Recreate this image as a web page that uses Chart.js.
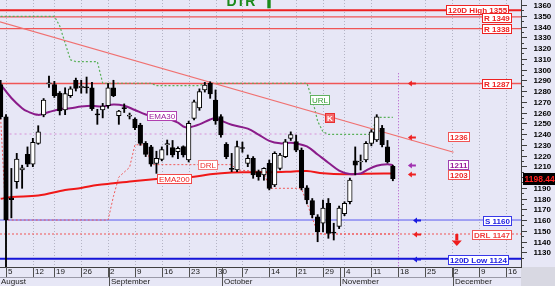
<!DOCTYPE html>
<html lang="en">
<head>
  <meta charset="UTF-8">
  <title>DTR daily</title>
  <script src="https://cdn.jsdelivr.net/npm/chart.js"></script>
  <style>
    html, body { margin: 0; padding: 0; background: #e7e7f6; }
    canvas { display: block; }
  </style>
</head>
<body>
  <canvas id="grafica" width="555" height="286"></canvas>

  <script>
    // x = trading-day index, 0 = Aug 5 (Aug 15 and Oct 28 are market holidays)
    const firstIdx = -1;
    const opens  = [1286, 1256, 1180.5, 1195.6, 1206.5, 1221, 1212, 1231.3, 1257.7, 1286.5,
                    1286, 1278, 1262.5, 1275.6, 1290, 1283, 1284, 1283, 1258.6, 1262.5,
                    1266.3, 1283, 1257, 1264.5, 1256.5, 1254, 1248.4, 1231.3, 1228, 1212.7,
                    1216.3, 1230, 1227.3, 1223.5, 1228.2, 1215.8, 1254.6, 1264.2, 1281, 1287.2,
                    1271.6, 1256.1, 1230.4, 1208, 1206.5, 1227.3, 1212.7, 1217.4, 1205, 1202,
                    1212.7, 1192.6, 1208, 1219, 1236, 1233, 1225, 1190, 1178, 1163,
                    1157, 1175.5, 1148.5, 1154, 1166, 1177, 1215, 1214, 1215.8, 1231.3,
                    1234.4, 1245.3, 1228, 1210];
    const highs  = [1290, 1258, 1208, 1222, 1211, 1228, 1236, 1247.7, 1273, 1294,
                    1289, 1279.5, 1283, 1284, 1292, 1290, 1293, 1288, 1263, 1268.5,
                    1287, 1290, 1262, 1268, 1259.5, 1255, 1250, 1233, 1229.5, 1224,
                    1228, 1234.4, 1234, 1228, 1229, 1252, 1271.6, 1282, 1288, 1288.6,
                    1281, 1258, 1232, 1222, 1233.5, 1232.5, 1220.5, 1219, 1206.5, 1208.6,
                    1215.8, 1223.5, 1222, 1235, 1242, 1239, 1227, 1192, 1180, 1165,
                    1178.6, 1180, 1157, 1173, 1177, 1199, 1228, 1220.5, 1233, 1244,
                    1258, 1248, 1234, 1211];
    const lows   = [1254, 1100, 1162, 1189.5, 1189.5, 1209.6, 1209.6, 1230.4, 1256, 1283.4,
                    1274, 1257.7, 1258, 1274, 1280, 1278, 1278, 1262, 1249, 1255,
                    1264, 1274.7, 1249, 1260, 1254, 1244, 1229.5, 1219, 1210, 1203.4,
                    1215, 1220.5, 1218.6, 1217, 1218.6, 1214, 1253, 1262, 1279, 1273.2,
                    1249, 1237, 1217, 1205, 1205, 1223, 1209.6, 1198.8, 1197, 1197,
                    1188, 1191, 1206.5, 1218, 1234, 1223.5, 1188, 1175, 1162, 1139.8,
                    1149, 1143, 1141.4, 1152, 1164, 1175, 1202, 1206.5, 1214, 1229,
                    1233, 1228, 1213, 1196.5];
    const closes = [1256, 1160, 1179, 1216.7, 1208.5, 1212, 1232.3, 1242, 1271.6, 1287.5,
                    1275.6, 1261.5, 1277.5, 1282, 1282.5, 1284.5, 1283, 1263.5, 1257.8, 1266,
                    1283, 1275.6, 1261.4, 1263.5, 1257.5, 1245.9, 1231.3, 1221, 1212, 1217.4,
                    1225.6, 1231, 1220.5, 1226.7, 1220.5, 1250, 1270, 1279.4, 1285.6, 1277.2,
                    1252.1, 1239.1, 1218.9, 1207, 1228.2, 1226.5, 1217.4, 1201.9, 1200.3, 1208,
                    1189.5, 1222, 1220.5, 1232.8, 1239.5, 1225, 1190, 1178.6, 1164.7, 1149,
                    1171, 1147.6, 1147.8, 1171, 1175.5, 1197.2, 1211, 1214.6, 1231.3, 1242,
                    1256, 1230, 1214, 1198.44];

    const ema30Idx = [-1, 1, 3, 4, 6, 8, 10, 12, 14, 16, 18, 20, 22, 24, 26, 28, 30, 32, 33, 34,
                      36, 38, 39, 40, 42, 45, 47, 49, 51, 53, 54, 56, 58, 60, 62, 64, 66, 67, 69, 71, 72];
    const ema30    = [1286, 1273.5, 1264, 1261, 1257.8, 1260.5, 1263, 1264, 1265.5, 1266.2, 1265.6,
                      1267.5, 1266.3, 1262.3, 1258.2, 1255.8, 1254.3, 1250.5, 1247, 1246.2, 1249,
                      1253.5, 1254.6, 1252.5, 1248.6, 1245, 1239.5, 1233.6, 1231.3, 1231.9, 1231.3,
                      1228.5, 1221, 1213.3, 1206, 1202.7, 1203.2, 1206, 1210.5, 1211.8, 1211];

    const ema200Idx = [-1, 1, 6, 11, 14, 17, 20, 24, 28, 31, 35, 38, 42, 45, 49, 53, 56, 59, 63, 67, 72];
    const ema200    = [1179.7, 1181.4, 1182.8, 1187.9, 1189.8, 1192.6, 1194.1, 1196.3, 1198.1, 1199.1,
                       1200.3, 1202.5, 1204.2, 1204.4, 1204.4, 1205, 1205.6, 1203.5, 1202.5, 1203.1, 1203.3];

    // trailing reversal levels
    const drlIdx = [-1, 0, 19, 20, 21, 23, 24, 26, 27, 42, 43, 48, 49, 54, 55, 56, 57, 58, 59, 72];
    const drl    = [1255, 1160, 1160, 1182, 1200, 1209, 1230, 1230, 1211.5, 1211.5, 1206.5, 1205,
                    1189.5, 1189.5, 1189, 1176, 1162, 1148, 1147, 1147];
    const urlIdx = [-1, 9, 10, 11, 12, 13, 17, 18, 27, 28, 36, 37, 56, 57, 58, 59, 60, 68, 69, 72];
    const url    = [1349.5, 1349.5, 1340.5, 1324.7, 1309, 1307.3, 1307.3, 1287.2, 1287.2, 1285, 1285,
                    1287.2, 1287.2, 1272.6, 1252, 1242, 1239.7, 1239.7, 1255.5, 1255.5];
    const oldLevel = 1240;
    const oldLevelIdx = [-1.2, 60];

    const trendIdx = [-1.2, 83.3];
    const trendVal = [1344.4, 1223];

    // horizontal levels
    const levelVal = [1355, 1349, 1338, 1287, 1160, 1147, 1124];
    const levelTxt = ['120D High 1355', 'R 1349', 'R 1338', 'R 1287', 'S 1160', 'DRL 1147', '120D Low 1124'];

    // right-side markers
    const markVal = [1287, 1236, 1211, 1203, 1160, 1147, 1124];
    const valueTagVal = [1236, 1211, 1203];
    const lastPrice = 1198.44;

    // axes
    const yTicks = [1130, 1140, 1150, 1160, 1170, 1180, 1190, 1200, 1210, 1220, 1230, 1240,
                    1250, 1260, 1270, 1280, 1290, 1300, 1310, 1320, 1330, 1340, 1350, 1360];
    const dayTickIdx = [0, 5, 9, 14, 19, 24, 29, 34, 39, 44, 49, 54, 59, 63, 68, 73, 78, 83, 88, 93];
    const dayTickLbl = ['5', '12', '19', '26', '2', '9', '16', '23', '30', '7', '14', '21', '29',
                        '4', '11', '18', '25', '2', '9', '16'];
    const monthIdx = [-1.5, 19, 40, 62, 83];
    const monthLbl = ['August', 'September', 'October', 'November', 'December'];
    const todayIdx = 73;

    const X_MIN = -1.117, X_MAX = 95.85;
    const Y_MIN = 1116.3, Y_MAX = 1364.65;

    const BG = '#e7e7f6';
    const RED = '#ee2222';
    const PINKRED = '#f05555';
    const BLUE = '#3838e8';
    const PURPLE = '#8a1c8a';
    const FONT_B = 'bold 8px "Liberation Sans", Arial, sans-serif';
    const FONT = '8px "Liberation Sans", Arial, sans-serif';

    const candleX = opens.map((_, k) => firstIdx + k);
    const pts = (xs, ys) => xs.map((v, k) => ({ x: v, y: ys[k] }));

    function line(data, color, width, dash, order, tension) {
      return {
        type: 'line', data, borderColor: color, borderWidth: width, borderDash: dash || [],
        pointRadius: 0, fill: false, tension: tension || 0, order
      };
    }

    const levelStyle = {
      1355: [RED, 2, []], 1349: [PINKRED, 1.4, []], 1338: [PINKRED, 1.4, []], 1287: [PINKRED, 1.4, []],
      1160: ['#5a5af0', 1, []], 1147: [PINKRED, 1, [2, 2]], 1124: ['#1515d8', 2, []]
    };

    const datasets = [
      {
        type: 'bar',
        data: candleX.map((i, k) => ({ x: i, y: [opens[k], closes[k]] })),
        backgroundColor: candleX.map((_, k) => closes[k] >= opens[k] ? '#ffffff' : '#000000'),
        borderColor: '#000', borderWidth: 1, borderSkipped: false,
        barThickness: 4.6, grouped: false, minBarLength: 1, order: 1
      },
      {
        type: 'bar',
        data: candleX.map((i, k) => ({ x: i, y: [lows[k], highs[k]] })),
        backgroundColor: '#000', borderWidth: 0, barThickness: 1.2, grouped: false, order: 2
      },
      line(pts(ema30Idx, ema30), PURPLE, 2, [], 3, 0.35),
      line(pts(ema200Idx, ema200), '#f01818', 2, [], 4, 0.35),
      line(pts(trendIdx, trendVal), '#f07070', 1.2, [], 5),
      line(pts(drlIdx, drl), '#f05a5a', 1, [2, 2], 6),
      line(pts(urlIdx, url), '#58b058', 1.2, [2, 2], 6),
      line(pts(oldLevelIdx, [oldLevel, oldLevel]), '#d890d8', 1, [2, 3], 7)
    ];
    levelVal.forEach(v => {
      const s = levelStyle[v];
      datasets.push(line(pts([X_MIN, X_MAX], [v, v]), s[0], s[1], s[2], 8));
    });

    function tag(c, text, left, cy, o) {
      c.font = o.font || FONT_B;
      const w = Math.round(c.measureText(text).width + 4);
      const h = 10;
      if (o.right) left = o.right - w;
      left = Math.round(left);
      const top = Math.round(cy - h / 2);
      c.fillStyle = o.fill || '#ffffff';
      c.fillRect(left, top, w, h);
      c.strokeStyle = o.border;
      c.lineWidth = 1;
      c.strokeRect(left + 0.5, top + 0.5, w - 1, h - 1);
      c.fillStyle = o.color;
      c.textBaseline = 'middle';
      c.textAlign = 'left';
      c.fillText(text, left + 2, top + h / 2 + 0.5);
    }

    function arrowLeft(c, x0, y0, color) {
      c.fillStyle = color;
      c.strokeStyle = color;
      c.lineWidth = 2;
      c.beginPath(); c.moveTo(x0 + 3, y0); c.lineTo(x0 + 8, y0); c.stroke();
      c.beginPath(); c.moveTo(x0, y0); c.lineTo(x0 + 4, y0 - 3); c.lineTo(x0 + 4, y0 + 3); c.closePath(); c.fill();
    }

    const markColor = { 1287: RED, 1236: RED, 1211: '#a030b0', 1203: RED, 1160: '#1a1ae0', 1147: RED, 1124: '#1a1ae0' };
    const levelTag = {
      1355: { border: RED, color: RED, right: 508.5 },
      1349: { border: RED, color: RED, right: 511.5 },
      1338: { border: RED, color: RED, right: 511.5 },
      1287: { border: RED, color: RED, right: 511.5 },
      1160: { border: BLUE, color: '#1a1ae0', right: 512 },
      1147: { border: PINKRED, color: '#f04040', right: 511.5 },
      1124: { border: BLUE, color: '#1a1ae0', right: 508.5 }
    };

    const decor = {
      id: 'decor',
      beforeDraw(chart) {
        const c = chart.ctx;
        c.save();
        c.fillStyle = BG;
        c.fillRect(0, 0, chart.width, chart.height);
        c.restore();
      },
      beforeDatasetsDraw(chart) {
        const c = chart.ctx, a = chart.chartArea, x = chart.scales.x, y = chart.scales.y;
        c.save();
        c.strokeStyle = '#b4b4c4';
        c.lineWidth = 1;
        c.setLineDash([1, 2]);
        dayTickIdx.forEach(i => {
          if (i === todayIdx) return;
          const px = Math.round(x.getPixelForValue(i)) + 0.5;
          c.beginPath(); c.moveTo(px, a.top); c.lineTo(px, a.bottom); c.stroke();
        });
        // today marker
        c.strokeStyle = '#b050c8';
        const tx = Math.round(x.getPixelForValue(todayIdx)) + 0.5;
        c.beginPath(); c.moveTo(tx, y.getPixelForValue(1296.5)); c.lineTo(tx, a.bottom); c.stroke();
        c.restore();
      },
      afterDatasetsDraw(chart) {
        const c = chart.ctx, x = chart.scales.x, y = chart.scales.y;
        c.save();
        // line labels
        tag(c, 'EMA30', x.getPixelForValue(26.2), y.getPixelForValue(1256.8), { font: FONT, border: '#b040b0', color: '#9a1a9a' });
        tag(c, 'EMA200', x.getPixelForValue(28.05), y.getPixelForValue(1198.6), { font: FONT, border: '#f04848', color: '#ee2020' });
        tag(c, 'DRL', x.getPixelForValue(35.68), y.getPixelForValue(1211.6), { font: FONT, border: '#f08080', color: '#ee3030' });
        tag(c, 'URL', x.getPixelForValue(56.58), y.getPixelForValue(1271.2), { font: FONT, border: '#60b060', color: '#2f9a2f' });
        tag(c, 'K', x.getPixelForValue(59.37), y.getPixelForValue(1254.9), { font: FONT_B, border: '#e83030', color: '#ffffff', fill: '#f46a6a' });

        // right side level tags
        levelVal.forEach((v, k) => {
          const py = Math.max(y.getPixelForValue(v), 6.2);
          tag(c, levelTxt[k], 0, py + (v === 1355 ? 0 : 0.8), levelTag[v]);
        });
        const vtStyle = { 1236: [PINKRED, '#ee2a2a', 1237.5], 1211: ['#a040b0', '#9a1a9a', 1210.9], 1203: [PINKRED, '#ee2a2a', 1202.1] };
        valueTagVal.forEach(v => {
          const s = vtStyle[v];
          tag(c, String(v), x.getPixelForValue(82.3), y.getPixelForValue(s[2]), { border: s[0], color: s[1] });
        });
        markVal.forEach(v => {
          const lower = v < 1200 && v !== 1203;
          const ax = x.getPixelForValue(lower ? 75.75 : 74.8);
          const ay = Math.round(y.getPixelForValue(v === 1236 ? 1237.5 : v)) + 0.5;
          arrowLeft(c, ax, ay, markColor[v]);
        });
        // down arrow
        const dx = x.getPixelForValue(83.9), dy = y.getPixelForValue(1147);
        c.fillStyle = '#ee1c1c';
        c.fillRect(dx - 1.5, dy, 3, 6.5);
        c.beginPath(); c.moveTo(dx - 5, dy + 6.5); c.lineTo(dx + 5, dy + 6.5); c.lineTo(dx, dy + 12); c.closePath(); c.fill();

        // DTR header (partly out of view)
        c.fillStyle = '#1a8a1a';
        c.font = 'bold 14px "Liberation Sans", Arial, sans-serif';
        c.textBaseline = 'alphabetic';
        c.fillText('DTR', 226.5, 5.7);
        c.fillRect(267.3, 0, 3.4, 8.3);
        c.restore();
      },
      afterDraw(chart) {
        const c = chart.ctx, a = chart.chartArea, x = chart.scales.x, y = chart.scales.y;
        const W = chart.width, H = chart.height;
        c.save();
        // panels
        c.fillStyle = BG;
        c.fillRect(a.right, 0, W - a.right, a.bottom);
        c.fillRect(0, a.bottom, a.right, H - a.bottom);
        c.fillStyle = '#d8d8e2';
        c.fillRect(a.right, a.bottom, W - a.right, H - a.bottom);

        // right axis
        c.strokeStyle = '#404040';
        c.lineWidth = 1;
        c.beginPath(); c.moveTo(a.right + 0.5, 0); c.lineTo(a.right + 0.5, a.bottom); c.stroke();
        c.font = FONT_B;
        c.fillStyle = '#000';
        c.textBaseline = 'middle';
        c.textAlign = 'left';
        yTicks.forEach(v => {
          const py = Math.round(y.getPixelForValue(v)) + 0.5;
          c.beginPath(); c.moveTo(a.right, py); c.lineTo(a.right + 6, py); c.stroke();
          const pm = Math.round(y.getPixelForValue(v - 5)) + 0.5;
          c.beginPath(); c.moveTo(a.right, pm); c.lineTo(a.right + 3, pm); c.stroke();
          c.fillText(String(v), 533.5, py + 0.7);
        });

        // last price
        const lp = y.getPixelForValue(lastPrice) + 0.8;
        c.fillStyle = '#000';
        c.fillRect(523, Math.round(lp - 6), W - 523, 12);
        c.fillStyle = '#ff2020';
        c.font = 'bold 8.5px "Liberation Sans", Arial, sans-serif';
        c.fillText(lastPrice.toFixed(2), 524.5, lp + 0.5);

        // bottom date axis
        const rowY = a.bottom + 10;
        c.strokeStyle = '#404040';
        c.beginPath(); c.moveTo(0, a.bottom + 0.5); c.lineTo(a.right + 1, a.bottom + 0.5); c.stroke();
        c.strokeStyle = '#9a9aa8';
        c.beginPath(); c.moveTo(0, rowY + 0.5); c.lineTo(a.right, rowY + 0.5); c.stroke();
        c.strokeStyle = '#505050';
        c.font = FONT;
        c.fillStyle = '#222';
        dayTickIdx.forEach((i, k) => {
          const px = Math.round(x.getPixelForValue(i)) + 0.5;
          c.beginPath(); c.moveTo(px, a.bottom); c.lineTo(px, rowY); c.stroke();
          c.fillText(dayTickLbl[k], px + 1.5, a.bottom + 5.2);
        });
        monthIdx.forEach((i, k) => {
          const px = Math.round(x.getPixelForValue(i) + 0.8) + 0.5;
          if (i > X_MIN) {
            c.beginPath(); c.moveTo(px, a.bottom); c.lineTo(px, H); c.stroke();
          }
          c.fillText(monthLbl[k], px + 1.5, rowY + 5);
        });
        c.restore();
      }
    };

    const ctx = document.getElementById('grafica').getContext('2d');
    const chart = new Chart(ctx, {
      type: 'bar',
      data: { datasets },
      options: {
        responsive: false,
        animation: false,
        devicePixelRatio: 1,
        layout: { padding: { left: 0, top: 0, right: 34, bottom: 19 } },
        scales: {
          x: { type: 'linear', min: X_MIN, max: X_MAX, offset: false, display: false },
          y: { type: 'linear', min: Y_MIN, max: Y_MAX, display: false }
        },
        plugins: {
          legend: { display: false },
          tooltip: { enabled: false }
        }
      },
      plugins: [decor]
    });
  </script>
</body>
</html>
